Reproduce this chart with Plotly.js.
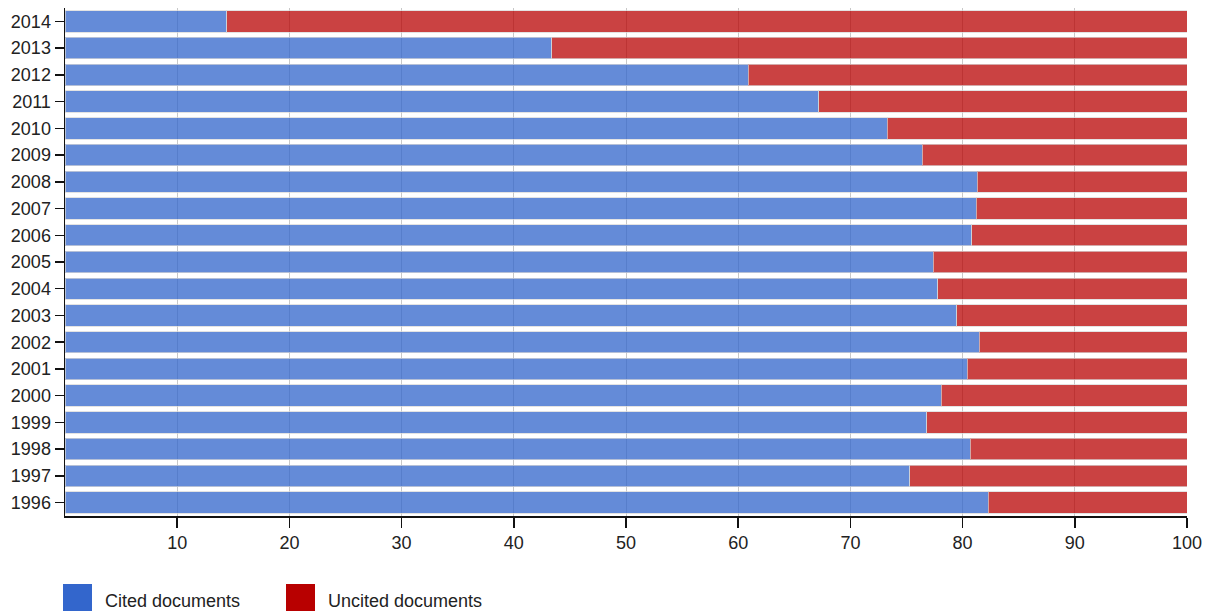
<!DOCTYPE html>
<html>
<head>
<meta charset="utf-8">
<script src="https://cdn.plot.ly/plotly-3.0.1.min.js"></script>
<style>html,body{margin:0;padding:0;background:#fff;}#chart{width:1217px;height:611px;}</style>
</head>
<body>
<div id="chart"></div>
<script>
const years = ["1996","1997","1998","1999","2000","2001","2002","2003","2004","2005","2006","2007","2008","2009","2010","2011","2012","2013","2014"];
const cited = [82.3,75.3,80.7,76.8,78.1,80.4,81.5,79.5,77.8,77.4,80.8,81.2,81.3,76.4,73.3,67.2,60.9,43.4,14.4];
const uncited = cited.map(v => +(100 - v).toFixed(1));
const xTicks = [10,20,30,40,50,60,70,80,90,100];
const seriesNames = ["Cited documents", "Uncited documents"];
const seriesColors = ["#3366cc", "#b80000"];

const font = {family: "Arial, 'Liberation Sans', sans-serif", size: 18, color: "#222"};

const traces = [
  {type: "bar", orientation: "h", name: seriesNames[0], y: years, x: cited,
   marker: {color: "rgba(51,102,204,0.76)", line: {width: 1, color: "rgba(215,215,215,0.7)"}}},
  {type: "bar", orientation: "h", name: seriesNames[1], y: years, x: uncited,
   marker: {color: "rgba(184,0,0,0.74)", line: {width: 1, color: "rgba(215,215,215,0.7)"}}}
];

// custom legend (swatches + labels) below the plot
const legendX = [0, 223];      // px offsets from plot left
const shapes = [], annotations = [];
const plotT = 8, plotW = 1217 - 65 - 30, plotH = 611 - 8 - 95;
seriesNames.forEach((nm, i) => {
  const x0 = (legendX[i] - 2) / plotW, x1 = (legendX[i] + 27) / plotW;
  shapes.push({type: "rect", xref: "paper", yref: "paper", x0: x0, x1: x1,
    y0: -(611 - plotT - plotH + 30) / plotH, y1: -(584 - plotT - plotH) / plotH,
    fillcolor: seriesColors[i], line: {width: 0}, layer: "above"});
  annotations.push({xref: "paper", yref: "paper", x: (legendX[i] + 38) / plotW, xanchor: "left",
    y: -(601 - plotT - plotH) / plotH, yanchor: "middle", text: nm, showarrow: false,
    font: {family: font.family, size: 18, color: "#222"}});
});

const layout = {
  width: 1217, height: 611,
  margin: {l: 65, r: 30, t: 8, b: 95, autoexpand: false},
  barmode: "stack", bargap: 0.2,
  paper_bgcolor: "#fff", plot_bgcolor: "#fff",
  font: font,
  showlegend: false,
  shapes: shapes, annotations: annotations,
  xaxis: {range: [0, 100], tickvals: xTicks, ticktext: xTicks.map(String),
          showgrid: true, gridcolor: "#c8c8c8", gridwidth: 1,
          showline: true, linecolor: "#111", linewidth: 1.5,
          ticks: "outside", ticklen: 10, tickcolor: "#111", tickwidth: 1.5,
          zeroline: false, fixedrange: true, tickfont: font},
  yaxis: {type: "category", categoryorder: "array", categoryarray: years,
          showgrid: false, showline: true, linecolor: "#111", linewidth: 1.5,
          ticks: "outside", ticklen: 9, tickcolor: "#111", tickwidth: 1.5,
          zeroline: false, fixedrange: true, tickfont: font}
};

Plotly.newPlot("chart", traces, layout, {displayModeBar: false, staticPlot: true});
</script>
</body>
</html>
